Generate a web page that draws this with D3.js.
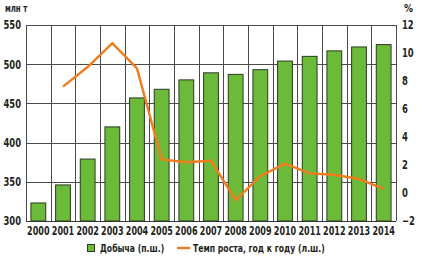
<!DOCTYPE html>
<html><head><meta charset="utf-8">
<script src="https://d3js.org/d3.v7.min.js"></script>
<style>
html,body{margin:0;padding:0;background:#fff;}
text{font-family:"DejaVu Sans Condensed","Liberation Sans Narrow",sans-serif;font-weight:bold;fill:#231f20;}
</style></head>
<body><svg id="c" width="424" height="258"></svg>
<script>
const years = ["2000","2001","2002","2003","2004","2005","2006","2007","2008","2009","2010","2011","2012","2013","2014"];
const production = [323,346,379,420,457,468,480,489,487,493,504,510,517,522,525];
const growthYears = ["2001","2002","2003","2004","2005","2006","2007","2008","2009","2010","2011","2012","2013","2014"];
const growth = [7.6,9.0,10.7,8.9,2.4,2.2,2.3,-0.5,1.2,2.1,1.4,1.3,1.0,0.3];
const leftTicks = [300,350,400,450,500,550];
const rightTicks = [-2,0,2,4,6,8,10,12];

const svg = d3.select("#c");
const L=26, R=396, T=25, B=221;
const x = d3.scaleBand().domain(years).range([L,R]).paddingInner(0.4).paddingOuter(0.2);
const xb = d3.scaleBand().domain(years).range([L,R]);
const yL = d3.scaleLinear().domain([300,550]).range([B,T]);
const yR = d3.scaleLinear().domain([-2,12]).range([B,T]);

const grid = svg.append("g").attr("stroke","#4a4a4a").attr("stroke-width",1);
leftTicks.forEach(t=>{
  grid.append("line").attr("x1",L).attr("x2",R).attr("y1",Math.round(yL(t))+0.5).attr("y2",Math.round(yL(t))+0.5);
});
years.forEach((y,i)=>{
  const xx = Math.round(xb(y))+0.5;
  grid.append("line").attr("x1",xx).attr("x2",xx).attr("y1",T).attr("y2",B);
});
grid.append("line").attr("x1",R+0.5).attr("x2",R+0.5).attr("y1",T).attr("y2",B);

svg.append("g").selectAll("rect").data(years).join("rect")
  .attr("x",d=>x(d)).attr("width",x.bandwidth())
  .attr("y",(d,i)=>yL(production[i])).attr("height",(d,i)=>B-yL(production[i]))
  .attr("fill","#6cba3a").attr("stroke","#2b3a20").attr("stroke-width",1);

svg.append("line").attr("x1",L).attr("x2",R).attr("y1",B+0.5).attr("y2",B+0.5).attr("stroke","#333").attr("stroke-width",1.2);

const line = d3.line().x((d,i)=>xb(growthYears[i])+xb.bandwidth()/2).y(d=>yR(d));
svg.append("path").datum(growth).attr("d",line).attr("fill","none")
  .attr("stroke","#f07c1c").attr("stroke-width",2.4).attr("stroke-linejoin","miter");

const SX = 0.78;
const axL = d3.axisLeft(yL).tickValues(leftTicks).tickSize(0).tickPadding(5);
svg.append("g").attr("transform",`translate(${L},0)`).call(axL)
  .call(g=>{g.select(".domain").remove();g.selectAll("text").attr("font-size",12).attr("fill","#231f20").style("font-family",null)
    .attr("x",-5/SX).attr("transform",`scale(${SX},1)`);});
const axR = d3.axisRight(yR).tickValues(rightTicks).tickSize(0).tickPadding(6);
svg.append("g").attr("transform",`translate(${R},0)`).call(axR)
  .call(g=>{g.select(".domain").remove();g.selectAll("text").attr("font-size",12).attr("fill","#231f20").style("font-family",null)
    .attr("x",6/SX).attr("transform",`scale(${SX},1)`);});
const axB = d3.axisBottom(xb).tickSize(0).tickPadding(6);
svg.append("g").attr("transform",`translate(0,${B})`).call(axB)
  .call(g=>{g.select(".domain").remove();g.selectAll("text").attr("font-size",11.5).attr("fill","#231f20").style("font-family",null)
    .attr("transform",`scale(${SX},1)`);});

function ltext(x,y,size,s){
  return svg.append("text").attr("transform",`translate(${x},${y}) scale(${SX},1)`).attr("font-size",size).text(s);
}
ltext(5,12,10,"млн т");
svg.append("text").attr("x",404).attr("y",12).attr("font-size",10).text("%");

// legend
svg.append("rect").attr("x",87.5).attr("y",244.5).attr("width",7).attr("height",7).attr("fill","#6cba3a").attr("stroke","#2b3a20");
ltext(100,252,11,"Добыча (п.ш.)");
svg.append("line").attr("x1",177).attr("x2",190).attr("y1",248).attr("y2",248).attr("stroke","#f07c1c").attr("stroke-width",2.4);
ltext(193,252,11,"Темп роста, год к году (л.ш.)");
</script></body></html>
